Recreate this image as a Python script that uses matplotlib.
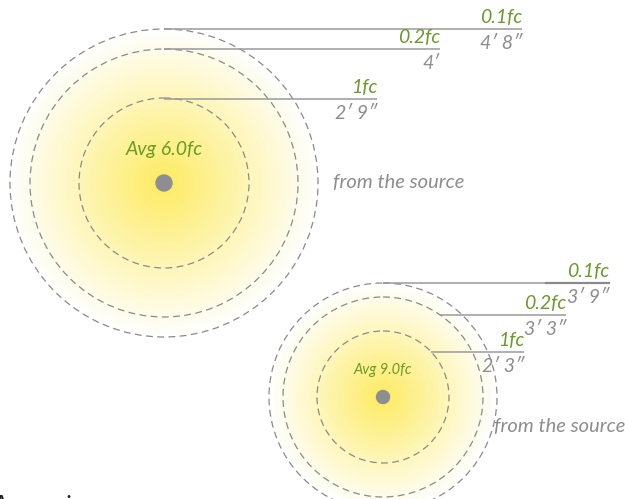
import numpy as np
import matplotlib
matplotlib.use("Agg")
import matplotlib.pyplot as plt
from matplotlib.patches import Circle
from matplotlib.colors import to_rgb

# ---- data ----
fixtures = ["big", "small"]
centers_x = [164, 383]
centers_y = [183, 397]
circle_radii = [[85, 134, 154], [66, 100, 114]]        # 1fc, 0.2fc, 0.1fc
line_y = [[99, 49, 29], [352, 315, 283]]
line_end_x = [[377, 440, 522], [524, 566, 609]]
fc_labels = [["1fc", "0.2fc", "0.1fc"], ["1fc", "0.2fc", "0.1fc"]]
dist_labels = [["2\u2032 9\u2033", "4\u2032", "4\u2032 8\u2033"],
               ["2\u2032 3\u2033", "3\u2032 3\u2033", "3\u2032 9\u2033"]]
avg_labels = ["Avg 6.0fc", "Avg 9.0fc"]
avg_label_y = [150, 370]
avg_sizes = [14, 10.5]
dot_radius = [8, 6.5]
source_text_x = [333, 494]
source_text_y = [183, 426]

GREEN = "#6b9a2c"
GRAY_TXT = "#8d8d8f"
GRAY_LINE = "#9a9a9c"
DASH = "#8a8a8c"
FONT = ["Lato", "DejaVu Sans"]

W, H = 625, 499
fig = plt.figure(figsize=(W / 100, H / 100), dpi=100)
ax = fig.add_axes([0, 0, 1, 1])
ax.set_xlim(0, W)
ax.set_ylim(H, 0)
ax.axis("off")

# radial glows
yy, xx = np.mgrid[0:H, 0:W] + 0.5
glow_rgb = np.array(to_rgb("#fdec68"))
alpha = np.zeros((H, W))
for cx, cy, radii in zip(centers_x, centers_y, circle_radii):
    R = radii[-1] * 1.0
    r = np.hypot(xx - cx, yy - cy) / R
    a = np.clip(1 - r, 0, 1) ** 1.0
    alpha = np.maximum(alpha, a)
img = np.ones((H, W, 4))
img[..., :3] = glow_rgb
img[..., 3] = np.clip(alpha * 1.05, 0, 1)
ax.imshow(img, extent=(0, W, H, 0), interpolation="bilinear", zorder=0)

for i in range(len(fixtures)):
    cx, cy = centers_x[i], centers_y[i]
    for rad in circle_radii[i]:
        ax.add_patch(Circle((cx, cy), rad, fill=False, ec=DASH, lw=0.9,
                            ls=(0, (5.5, 3.5)), zorder=2))
    for rad, ly, lx, fl, dl in zip(circle_radii[i], line_y[i], line_end_x[i],
                                   fc_labels[i], dist_labels[i]):
        dy = ly - cy
        x0 = cx + np.sqrt(max(rad ** 2 - dy ** 2, 0)) if i == 1 else cx
        ax.plot([x0, lx], [ly, ly], color=GRAY_LINE, lw=1.1, zorder=3,
                solid_capstyle="butt")
        ax.text(lx, ly - 3, fl, color=GREEN, fontsize=14, style="italic",
                family=FONT, ha="right", va="bottom", zorder=4)
        ax.text(lx, ly + 6, dl, color=GRAY_TXT, fontsize=14, style="italic",
                family=FONT, ha="right", va="top", zorder=4)
    ax.add_patch(Circle((cx, cy), dot_radius[i], color="#8e8e92", zorder=4))
    ax.text(cx, avg_label_y[i], avg_labels[i], color=GREEN,
            fontsize=avg_sizes[i], style="italic", family=FONT,
            ha="center", va="center", zorder=4)
    ax.text(source_text_x[i], source_text_y[i], "from the source",
            color=GRAY_TXT, fontsize=14.5, style="italic", family=FONT,
            ha="left", va="center", zorder=4)

# darker overlap segment on small 0.1fc line
ax.plot([546, 609], [283, 283], color="#8a8a8c", lw=1.6, zorder=3)

ax.text(-6, 509, "Accessories", color="#222222", fontsize=13, family=FONT,
        fontweight="bold", ha="left", va="baseline", zorder=5)

fig.savefig("out.png", dpi=100)
